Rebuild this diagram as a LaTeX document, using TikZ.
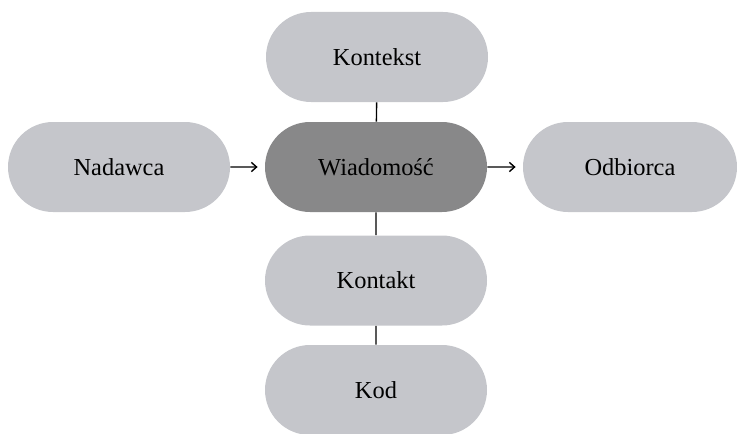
\documentclass[tikz,border=0pt]{standalone}
\usepackage{fontspec}
\setmainfont{Liberation Serif}
\usetikzlibrary{shapes.misc,arrows.meta}
\definecolor{boxgrey}{HTML}{C5C6CB}
\definecolor{msggrey}{HTML}{888889}
\tikzset{
    pill/.style={rounded rectangle, fill=boxgrey, minimum width=111pt, minimum height=45pt,
        inner sep=0pt, text=black, font=\fontsize{12.2}{14}\selectfont},
    link/.style={line width=0.7pt},
    flow/.style={link, -{Straight Barb[length=2.6pt,width=4.6pt]}, shorten >=3.5pt}
}
\begin{document}
\begin{tikzpicture}[x=0.5pt, y=-0.5pt]
        \useasboundingbox (0,0) rectangle (737,433);

        \node[pill, fill=msggrey] (msg) at (376,167) {Wiadomość};
        \node[pill] (ctx) at (377,57) {Kontekst};
        \node[pill] (snd) at (119,167) {Nadawca};
        \node[pill, minimum width=107pt] (rcv) at (630,167) {Odbiorca};
        \node[pill] (cnt) at (376,280.5) {Kontakt};
        \node[pill] (code) at (376,390) {Kod};

%        connectors
        \draw[flow] (snd) -- (msg);
        \draw[flow] (msg) -- (rcv);
        \draw[link] (ctx) -- (msg);
        \draw[link] (msg) -- (cnt);
        \draw[link] (cnt) -- (code);

    \end{tikzpicture}
\end{document}
